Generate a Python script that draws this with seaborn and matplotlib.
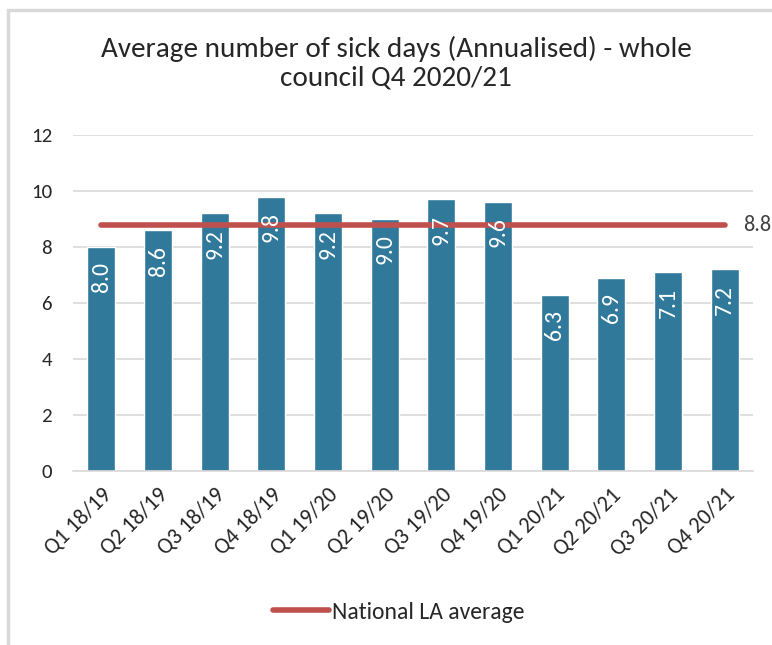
import matplotlib
matplotlib.use("Agg")
import matplotlib.pyplot as plt
import seaborn as sns
import pandas as pd
from matplotlib.patches import Rectangle
from matplotlib.lines import Line2D
from matplotlib import font_manager

quarters = ["Q1 18/19", "Q2 18/19", "Q3 18/19", "Q4 18/19",
            "Q1 19/20", "Q2 19/20", "Q3 19/20", "Q4 19/20",
            "Q1 20/21", "Q2 20/21", "Q3 20/21", "Q4 20/21"]
sick_days = [8.0, 8.6, 9.2, 9.8, 9.2, 9.0, 9.7, 9.6, 6.3, 6.9, 7.1, 7.2]
national_avg = 8.8
y_ticks = [0, 2, 4, 6, 8, 10, 12]

BAR = "#31799a"
LINE = "#c0504d"
TEXT = "#262626"

sns.set_theme(style="white")
installed = {f.name for f in font_manager.fontManager.ttflist}
families = [f for f in ["Carlito", "Liberation Sans Narrow", "Lato"] if f in installed]
plt.rcParams["font.family"] = families + ["DejaVu Sans"]

df = pd.DataFrame({"quarter": quarters, "days": sick_days})

fig = plt.figure(figsize=(7.72, 6.45), dpi=100)
fig.patch.set_facecolor("white")
# light frame around the chart area
fig.patches.append(Rectangle((8 / 772, -0.1), 1.1, (645 - 10) / 645 + 0.1,
                             transform=fig.transFigure, fill=False,
                             edgecolor="#d9d9d9", linewidth=2.5))

ax = fig.add_axes([73 / 772, 0.2698, 680 / 772, 0.5209])
sns.barplot(data=df, x="quarter", y="days", color=BAR, width=0.49,
            saturation=1, ax=ax, zorder=2, errorbar=None)

ax.set_ylim(0, 12)
ax.set_xlim(-0.5, len(quarters) - 0.5)
ax.set_yticks(y_ticks)
ax.set_yticklabels([str(t) for t in y_ticks], fontsize=15, color=TEXT)
ax.yaxis.grid(True, color="#d9d9d9", linewidth=1.2, zorder=0)
ax.set_axisbelow(True)
for s in ["top", "right", "left"]:
    ax.spines[s].set_visible(False)
ax.spines["bottom"].set_color("#d9d9d9")
ax.spines["bottom"].set_linewidth(1.2)
ax.tick_params(axis="y", length=0, pad=15)
ax.tick_params(axis="x", length=0, pad=10)
ax.set_xlabel("")
ax.set_ylabel("")
ax.set_xticks(range(len(quarters)))
ax.set_xticklabels(quarters, rotation=45, ha="right", rotation_mode="anchor",
                   fontsize=16, color=TEXT)

# value labels inside the bars, just below each bar's top
for i, v in enumerate(sick_days):
    ax.text(i, v - 0.55, f"{v:.1f}", rotation=90, ha="center", va="top",
            color="white", fontsize=17, zorder=4)

# national average line
xs = list(range(len(quarters)))
ax.plot([xs[0], xs[-1]], [national_avg] * 2, color=LINE, linewidth=4,
        solid_capstyle="round", zorder=3)
ax.text(xs[-1] + 0.33, national_avg, f"{national_avg:.1f}", va="center",
        ha="left", fontsize=16, color="#404040", clip_on=False)

fig.suptitle("Average number of sick days (Annualised) - whole\ncouncil Q4 2020/21",
             x=0.513, y=0.945, va="top", fontsize=21, color=TEXT, linespacing=1.2)

handle = Line2D([], [], color=LINE, linewidth=4, solid_capstyle="round")
leg = fig.legend(handles=[handle], labels=["National LA average"], loc="center",
                 bbox_to_anchor=(0.516, 0.051), frameon=False, fontsize=17,
                 handlelength=2.4, handletextpad=0.1)
for t in leg.get_texts():
    t.set_color(TEXT)

fig.savefig("out.png", dpi=100)
